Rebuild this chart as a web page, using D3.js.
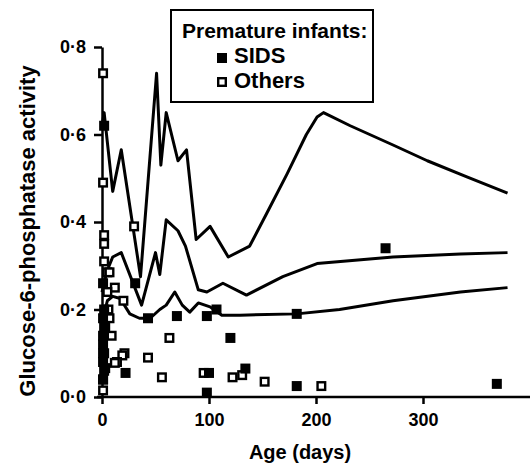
<!DOCTYPE html>
<meta charset="utf-8">
<style>
body { margin: 0; background: #fff; }
text { font-family: "Liberation Sans", Arial, sans-serif; font-weight: bold; fill: #000; }
.curve { fill: none; stroke: #000; stroke-width: 3px; stroke-linejoin: round; }
.axis path, .axis line { stroke: #000; stroke-width: 2.5px; }
</style>
<script src="https://d3js.org/d3.v7.min.js"></script>
<div id="chart"></div>
<script>
// ---- data ----
// three reference curves (upper / middle / lower)
var upperDays = [0, 2, 10, 18, 36, 51, 55, 60, 71, 79, 88, 101, 118, 138, 154, 173, 191, 201, 207, 232, 272, 304, 341, 379];
var upperVals = [0.62, 0.65, 0.47, 0.565, 0.275, 0.74, 0.53, 0.65, 0.54, 0.565, 0.36, 0.39, 0.32, 0.345, 0.42, 0.51, 0.60, 0.64, 0.65, 0.62, 0.576, 0.54, 0.503, 0.466];

var middleDays = [0, 5, 10, 18, 37, 50, 54, 60, 71, 78, 90, 98, 113, 135, 169, 201, 272, 335, 379];
var middleVals = [0.24, 0.29, 0.32, 0.33, 0.21, 0.33, 0.28, 0.405, 0.38, 0.345, 0.245, 0.24, 0.26, 0.233, 0.275, 0.305, 0.32, 0.327, 0.33];

var lowerDays = [0, 5, 10, 17, 26, 35, 45, 54, 60, 68, 75, 82, 90, 101, 112, 129, 182, 222, 272, 335, 379];
var lowerVals = [0.17, 0.22, 0.23, 0.225, 0.19, 0.18, 0.18, 0.2, 0.21, 0.24, 0.21, 0.194, 0.215, 0.206, 0.187, 0.187, 0.19, 0.2, 0.22, 0.24, 0.25];

// SIDS (filled squares)
var sidsDays = [2, 1, 2, 1, 2, 1, 1, 2, 1, 2, 1, 22, 31, 43, 70, 98, 107, 120, 100, 98, 134, 182, 182, 265, 369];
var sidsVals = [0.62, 0.26, 0.2, 0.18, 0.16, 0.14, 0.12, 0.1, 0.08, 0.06, 0.04, 0.055, 0.26, 0.18, 0.185, 0.185, 0.20, 0.135, 0.055, 0.01, 0.065, 0.19, 0.025, 0.34, 0.03];

// Others (open squares)
var otherDays = [1, 1, 30, 2, 2, 2, 5, 7, 12, 5, 20, 6, 7, 3, 9, 1, 21, 19, 14, 12, 3, 1, 1, 43, 56, 63, 95, 122, 131, 152, 205];
var otherVals = [0.74, 0.49, 0.39, 0.37, 0.35, 0.31, 0.285, 0.285, 0.25, 0.24, 0.22, 0.2, 0.18, 0.16, 0.14, 0.1, 0.1, 0.095, 0.08, 0.078, 0.066, 0.04, 0.015, 0.09, 0.045, 0.135, 0.055, 0.045, 0.05, 0.035, 0.025];

var yTicks = [0, 0.2, 0.4, 0.6, 0.8];
var xTicks = [0, 100, 200, 300];

// ---- layout ----
var W = 531, H = 463;
var svg = d3.select("#chart").append("svg")
  .attr("width", W).attr("height", H);

var x = d3.scaleLinear().domain([0, 400]).range([102, 530]);
var y = d3.scaleLinear().domain([0, 0.8]).range([397, 47]);

// axes
svg.append("g")
  .attr("class", "axis")
  .attr("transform", "translate(0," + y(0) + ")")
  .call(d3.axisBottom(x).tickValues(xTicks).tickSize(7).tickSizeOuter(0).tickPadding(9))
  .call(function (g) { g.selectAll("text").style("font-size", "18px"); g.select(".domain").attr("d", "M97,0H530"); });

svg.append("g")
  .attr("class", "axis")
  .attr("transform", "translate(" + x(0) + ",0)")
  .call(d3.axisLeft(y).tickValues(yTicks).tickSize(8).tickSizeOuter(0).tickPadding(8)
    .tickFormat(function (d) { return d3.format(".1f")(d).replace(".", "\u00b7"); }))
  .call(function (g) { g.selectAll("text").style("font-size", "18px"); });

// axis titles
svg.append("text")
  .attr("transform", "translate(35," + 231 + ") rotate(-90)")
  .attr("text-anchor", "middle")
  .style("font-size", "22px")
  .text("Glucose-6-phosphatase activity");

svg.append("text")
  .attr("x", 300).attr("y", 459)
  .attr("text-anchor", "middle")
  .style("font-size", "20px")
  .text("Age (days)");

// curves
function drawCurve(days, vals) {
  var line = d3.line()
    .x(function (d, i) { return x(days[i]); })
    .y(function (d, i) { return y(vals[i]); });
  svg.append("path").attr("class", "curve").attr("d", line(vals));
}
drawCurve(upperDays, upperVals);
drawCurve(middleDays, middleVals);
drawCurve(lowerDays, lowerVals);

// points
var s = 10;
svg.append("g").selectAll("rect")
  .data(otherVals).enter().append("rect")
    .attr("x", function (d, i) { return x(otherDays[i]) - s / 2 + 1.2; })
    .attr("y", function (d) { return y(d) - s / 2 + 1.2; })
    .attr("width", s - 2.4).attr("height", s - 2.4)
    .style("fill", "#fff").style("stroke", "#000").style("stroke-width", 2.4);

svg.append("g").selectAll("rect")
  .data(sidsVals).enter().append("rect")
    .attr("x", function (d, i) { return x(sidsDays[i]) - s / 2; })
    .attr("y", function (d) { return y(d) - s / 2; })
    .attr("width", s).attr("height", s)
    .style("fill", "#000");

// legend
var lg = svg.append("g");
lg.append("rect").attr("x", 171).attr("y", 10).attr("width", 202).attr("height", 92)
  .style("fill", "#fff").style("stroke", "#000").style("stroke-width", 2);
lg.append("text").attr("x", 182).attr("y", 38).style("font-size", "21px").text("Premature infants:");
lg.append("rect").attr("x", 217).attr("y", 53).attr("width", 10).attr("height", 10).style("fill", "#000");
lg.append("text").attr("x", 234).attr("y", 63).style("font-size", "22px").text("SIDS");
lg.append("rect").attr("x", 218.2).attr("y", 78.2).attr("width", 7.6).attr("height", 7.6)
  .style("fill", "#fff").style("stroke", "#000").style("stroke-width", 2.4);
lg.append("text").attr("x", 234).attr("y", 88).style("font-size", "22px").text("Others");
</script>
